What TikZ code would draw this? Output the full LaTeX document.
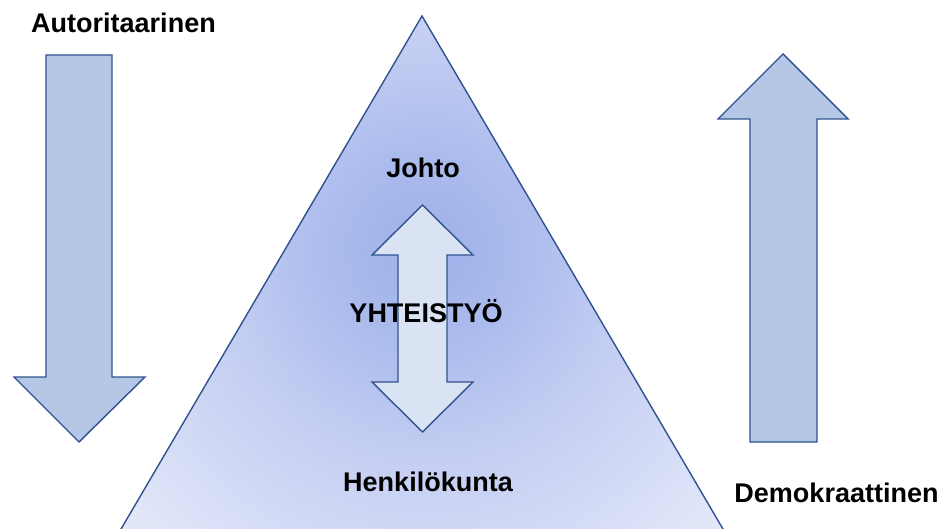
\documentclass[tikz,border=0pt]{standalone}
\usepackage{fontspec}
\setmainfont{Liberation Sans}
\definecolor{arrowfill}{RGB}{180,199,231}
\definecolor{arrowline}{RGB}{47,82,143}
\definecolor{dblfill}{RGB}{218,227,243}
\definecolor{tc0}{RGB}{158,176,234}
\definecolor{tc1}{RGB}{172,188,237}
\definecolor{tc2}{RGB}{195,205,242}
\definecolor{tc3}{RGB}{208,216,245}
\definecolor{tc4}{RGB}{226,231,248}
\pgfdeclareradialshading{trishade}{\pgfpoint{0bp}{0bp}}{color(0bp)=(tc0); color(6bp)=(tc1); color(12bp)=(tc2); color(17bp)=(tc3); color(23.5bp)=(tc4); color(50bp)=(tc4)}
\tikzset{
  blockarrow/.style={fill=arrowfill, draw=arrowline, line width=1.4pt, line join=miter},
  dblarrow/.style={fill=dblfill, draw=arrowline, line width=1.4pt, line join=miter},
  lbl/.style={font=\bfseries\fontsize{27}{32}\selectfont, inner sep=0pt, anchor=base, text=black}
}
\begin{document}
\begin{tikzpicture}[x=1pt,y=-1pt]
\useasboundingbox (0,0) rectangle (944,529);
% triangle with radial gradient
\begin{scope}
  \clip (422,16) -- (726.5,535) -- (117.5,535) -- cycle;
  \shade[shading=trishade] (425,250) circle (420);
\end{scope}
\draw[draw=arrowline, line width=1.4pt] (422,16) -- (726.5,535) -- (117.5,535) -- cycle;
% left arrow (down)
\draw[blockarrow] (46,55) -- (112,55) -- (112,377) -- (145,377) -- (79,442) -- (14,377) -- (46,377) -- cycle;
% right arrow (up)
\draw[blockarrow] (750,442) -- (817,442) -- (817,119) -- (848,119) -- (783,54) -- (718,119) -- (750,119) -- cycle;
% double arrow
\draw[dblarrow] (422.5,205) -- (473,255) -- (447,255) -- (447,382) -- (473,382) -- (422.5,432) -- (372,382) -- (398,382) -- (398,255) -- (372,255) -- cycle;
% labels
\node[lbl] (auto) at (123.5,33) {Autoritaarinen};
\node[lbl] (johto) at (423,178) {Johto};
\node[lbl] (yht) at (426,322) {YHTEISTYÖ};
\node[lbl] (henk) at (428,491) {Henkilökunta};
\node[lbl] (demo) at (836.5,502) {Demokraattinen};
\end{tikzpicture}
\end{document}
